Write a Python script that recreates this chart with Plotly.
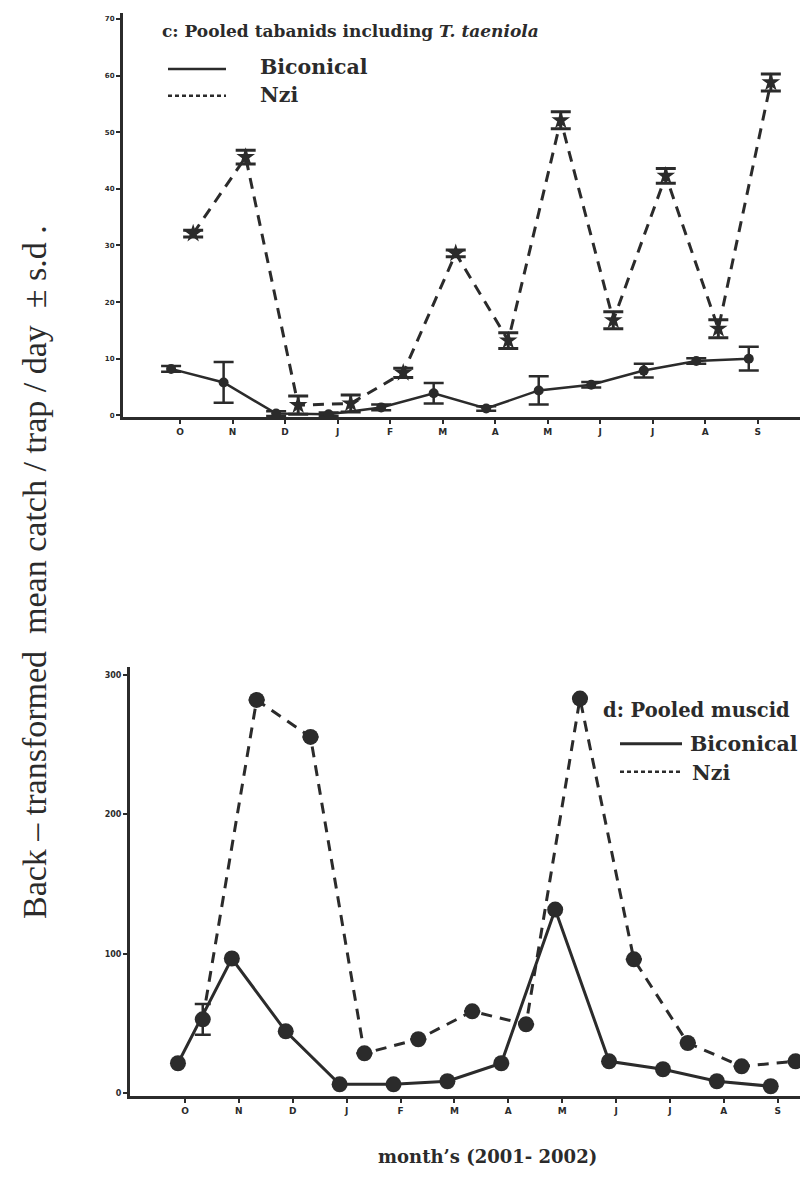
import plotly.graph_objects as go

# ---------------- data ----------------
months = ["O", "N", "D", "J", "F", "M", "A", "M", "J", "J", "A", "S"]
month_idx = list(range(12))

# panel c: pooled tabanids including T. taeniola
tab_biconical = [8.2, 5.8, 0.3, 0.2, 1.4, 3.9, 1.2, 4.4, 5.4, 7.9, 9.6, 10.0]
tab_biconical_sd = [0.5, 3.6, 0.4, 0.3, 0.5, 1.8, 0.4, 2.5, 0.5, 1.2, 0.5, 2.1]
tab_nzi = [32.1, 45.6, 1.8, 2.1, 7.5, 28.6, 13.2, 52.1, 16.8, 42.3, 15.3, 58.8]
tab_nzi_sd = [0.6, 1.2, 1.6, 1.5, 0.8, 0.6, 1.4, 1.5, 1.5, 1.3, 1.6, 1.5]

# panel d: pooled muscids
mus_biconical = [21.5, 96.6, 44.4, 6.4, 6.4, 8.6, 21.5, 131.7, 22.9, 17.2, 8.6, 5.0]
mus_nzi = [53.0, 282.0, 255.5, 28.6, 38.7, 58.7, 49.4, 283.0, 96.0, 36.0, 19.3, 22.9]
mus_nzi_sd = [11.0, 0, 0, 0, 0, 0, 0, 0, 0, 0, 0, 0]

top_yticks = [0, 10, 20, 30, 40, 50, 60, 70]
bottom_yticks = [0, 100, 200, 300]

# ---------------- style ----------------
INK = "#2b2b2b"
W, H = 808, 1182


def px(x):
    return x / W


def py(y):
    return 1 - y / H


# horizontal dodge between the two trap series (style only)
TOP_DODGE = {"bic": -0.17, "nzi": 0.25}
BOT_DODGE = {"bic": -0.13, "nzi": 0.33}

fig = go.Figure()

# top panel
fig.add_trace(go.Scatter(
    x=[i + TOP_DODGE["bic"] for i in month_idx], y=tab_biconical,
    mode="lines+markers", name="Biconical",
    line=dict(color=INK, width=2.5),
    marker=dict(symbol="circle", size=10, color=INK),
    error_y=dict(type="data", array=tab_biconical_sd, color=INK, thickness=2.5, width=10),
    xaxis="x", yaxis="y", showlegend=False))
fig.add_trace(go.Scatter(
    x=[i + TOP_DODGE["nzi"] for i in month_idx], y=tab_nzi,
    mode="lines+markers", name="Nzi",
    line=dict(color=INK, width=3, dash="11px,8px"),
    marker=dict(symbol="star", size=14, color=INK),
    error_y=dict(type="data", array=tab_nzi_sd, color=INK, thickness=3, width=10),
    xaxis="x", yaxis="y", showlegend=False))

# bottom panel
fig.add_trace(go.Scatter(
    x=[i + BOT_DODGE["bic"] for i in month_idx], y=mus_biconical,
    mode="lines+markers", name="Biconical",
    line=dict(color=INK, width=3),
    marker=dict(symbol="circle", size=16, color=INK),
    xaxis="x2", yaxis="y2", showlegend=False))
fig.add_trace(go.Scatter(
    x=[i + BOT_DODGE["nzi"] for i in month_idx], y=mus_nzi,
    mode="lines+markers", name="Nzi",
    line=dict(color=INK, width=3, dash="11px,8px"),
    marker=dict(symbol="circle", size=16, color=INK),
    error_y=dict(type="data", array=mus_nzi_sd, color=INK, thickness=2.5, width=8),
    xaxis="x2", yaxis="y2", showlegend=False))

axis_common = dict(showline=True, linecolor=INK, linewidth=3, ticks="outside",
                   tickcolor=INK, ticklen=4, tickwidth=2, showgrid=False,
                   zeroline=False, mirror=False)
tickfont = dict(family="DejaVu Sans", size=9, color=INK, weight="bold")

fig.update_layout(
    width=W, height=H,
    margin=dict(l=0, r=0, t=0, b=0),
    paper_bgcolor="white", plot_bgcolor="white",
    showlegend=False,
    xaxis=dict(domain=[px(115), 1], range=[-1.086, 12.11], anchor="y",
               tickvals=month_idx, ticktext=months, tickfont=tickfont, **axis_common),
    yaxis=dict(domain=[py(410), py(5)], range=[-0.35, 71.06], anchor="x",
               tickvals=top_yticks,
               tickfont=dict(family="DejaVu Sans", size=7, color=INK, weight="bold"),
               **axis_common),
    xaxis2=dict(domain=[px(122), 1], range=[-1.02, 11.71], anchor="y2",
                tickvals=month_idx, ticktext=months, tickfont=tickfont, **axis_common),
    yaxis2=dict(domain=[py(1090), py(660)], range=[-2.1, 305.7], anchor="x2",
                tickvals=bottom_yticks,
                tickfont=dict(family="DejaVu Sans", size=8, color=INK, weight="bold"),
                **axis_common),
)

serif_bold = dict(family="DejaVu Serif", color=INK, weight="bold")
annotations = [
    dict(x=px(152), y=py(23), text="c: Pooled tabanids including <i>T. taeniola</i>",
         font=dict(size=17, **serif_bold)),
    dict(x=px(250), y=py(59), text="Biconical", font=dict(size=20.5, **serif_bold)),
    dict(x=px(250), y=py(87), text="Nzi", font=dict(size=20.5, **serif_bold)),
    dict(x=px(593), y=py(704), text="d: Pooled muscid", font=dict(size=19.5, **serif_bold)),
    dict(x=px(680), y=py(737), text="Biconical", font=dict(size=20.5, **serif_bold)),
    dict(x=px(682), y=py(766), text="Nzi", font=dict(size=20.5, **serif_bold)),
]
for a in annotations:
    a.update(xref="paper", yref="paper", xanchor="left", yanchor="middle", showarrow=False)

annotations.append(dict(
    x=px(26), y=py(565), xref="paper", yref="paper", showarrow=False, textangle=-90,
    xanchor="center", yanchor="middle",
    text="Back \u2013 transformed  mean catch / trap / day  \u00b1 s.d .",
    font=dict(family="Liberation Serif", size=34, color=INK)))
annotations.append(dict(
    x=px(368), y=py(1150), xref="paper", yref="paper", showarrow=False,
    xanchor="left", yanchor="middle", text="month\u2019s (2001- 2002)",
    font=dict(size=18, **serif_bold)))
fig.update_layout(annotations=annotations)

shapes = [
    dict(x0=px(160), x1=px(218), y0=py(61), y1=py(61), line=dict(color=INK, width=2.5)),
    dict(x0=px(160), x1=px(218), y0=py(88), y1=py(88), line=dict(color=INK, width=2.5, dash="4px,3px")),
    dict(x0=px(612), x1=px(674), y0=py(737), y1=py(737), line=dict(color=INK, width=3)),
    dict(x0=px(612), x1=px(674), y0=py(765), y1=py(765), line=dict(color=INK, width=2.5, dash="4px,3px")),
]
for s in shapes:
    s.update(type="line", xref="paper", yref="paper")
fig.update_layout(shapes=shapes)

fig.write_html("out.html")
